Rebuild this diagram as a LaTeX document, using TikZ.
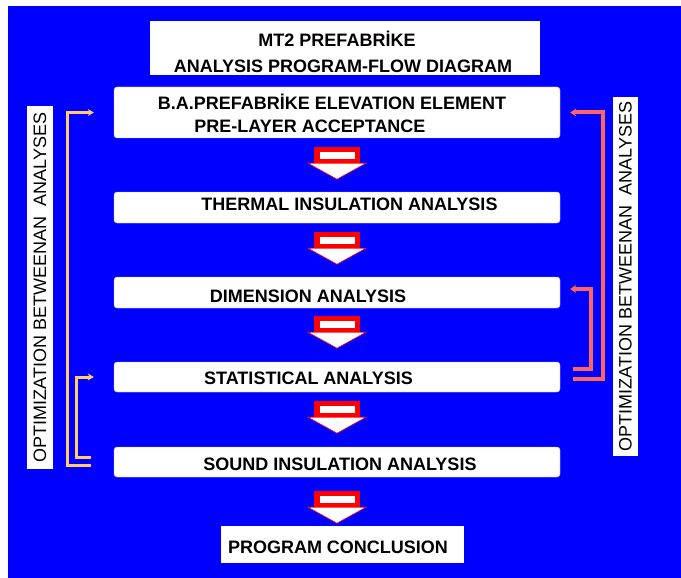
\documentclass[tikz,border=0pt]{standalone}
\usepackage{fontspec}
\setmainfont{Liberation Sans}
\usetikzlibrary{arrows.meta,positioning}
\definecolor{bgblue}{RGB}{0,0,255}
\definecolor{optyel}{RGB}{255,205,100}
\definecolor{optred}{RGB}{255,100,95}
\definecolor{arred}{RGB}{255,0,0}

\begin{document}
\begin{tikzpicture}[x=1pt, y=-1pt,
  stage/.style={fill=white, draw=blue!25, rounded corners=3pt, minimum width=446pt, minimum height=31pt, inner sep=0pt},
  plainbox/.style={fill=white, inner sep=0pt},
  txt/.style={font=\bfseries\fontsize{18}{20}\selectfont, anchor=base, inner sep=0pt},
  sidetxt/.style={fill=white, rotate=90, font=\fontsize{18}{20}\selectfont, inner sep=0pt},
  yelarr/.style={optyel, line width=3pt, -{Stealth[length=6pt,width=7pt]}},
  redarr/.style={optred, line width=4pt, -{Stealth[length=6pt,width=8pt]}},
  downarr/.pic={
    \fill[arred] (-23,0) rectangle (23,16);
    \fill[white] (-17.5,5) rectangle (17.5,12);
    \filldraw[fill=white, draw=arred, line width=0.6pt] (-29,16) -- (29,16) -- (0,32) -- cycle;
  }]
% Background
\fill[white] (0,0) rectangle (681,578);
\fill[bgblue] (8,6) rectangle (681,578);

% Boxes
\node[plainbox, minimum width=390pt, minimum height=54pt] (title) at (345,48) {};
\node[stage, minimum height=51pt] (elem) at (337,112.5) {};
\node[stage] (therm) at (337,207.5) {};
\node[stage] (dim) at (337,292.5) {};
\node[stage, minimum height=30pt] (stat) at (337,377) {};
\node[stage, minimum height=30pt] (sound) at (337,462) {};
\node[plainbox, minimum width=243pt, minimum height=37pt] (concl) at (342.5,544.5) {};

% Texts
\node[txt] (titleA) at (337,47) {MT2 PREFABRİKE};
\node[txt] (titleB) at (343,73) {ANALYSIS PROGRAM-FLOW DIAGRAM};
\node[txt] (elemA) at (332,110) {B.A.PREFABRİKE ELEVATION ELEMENT};
\node[txt] (elemB) at (310,132) {PRE-LAYER ACCEPTANCE};
\node[txt] (thermT) at (349.5,211) {THERMAL INSULATION ANALYSIS};
\node[txt] (dimT) at (308,302) {DIMENSION ANALYSIS};
\node[txt] (statT) at (308.5,384) {STATISTICAL ANALYSIS};
\node[txt] (soundT) at (340,470) {SOUND INSULATION ANALYSIS};
\node[txt] (conclT) at (338,553) {PROGRAM CONCLUSION};

% Side labels
\node[sidetxt, minimum width=363pt, minimum height=26pt] (optL) at (40,287.5) {OPTIMIZATION BETWEENAN\ \ ANALYSES};
\node[sidetxt, minimum width=359pt, minimum height=25pt] (optR) at (625.5,276.5) {OPTIMIZATION BETWEENAN\ \ ANALYSES};

% Flow arrows
\pic at ([yshift=-9pt]elem.south) {downarr};
\pic at ([yshift=-9pt]therm.south) {downarr};
\pic at ([yshift=-8pt]dim.south) {downarr};
\pic at ([yshift=-9pt]stat.south) {downarr};
\pic at ([yshift=-14pt]sound.south) {downarr};

% Optimization loops
\draw[yelarr] ([xshift=-23pt,yshift=-3pt]sound.west) -| ([xshift=-46pt]elem.west) -- ([xshift=-20pt]elem.west);
\draw[yelarr] ([xshift=-23pt,yshift=5pt]sound.west) -| ([xshift=-37pt]stat.west) -- ([xshift=-20pt]stat.west);
\draw[redarr] ([xshift=13pt,yshift=-2pt]stat.east) -| ([xshift=43pt]elem.east) -- ([xshift=10pt]elem.east);
\draw[redarr] ([xshift=13pt,yshift=8pt]stat.east) -| ([xshift=31pt,yshift=3.5pt]dim.east) -- ([xshift=10pt,yshift=3.5pt]dim.east);
\end{tikzpicture}
\end{document}
